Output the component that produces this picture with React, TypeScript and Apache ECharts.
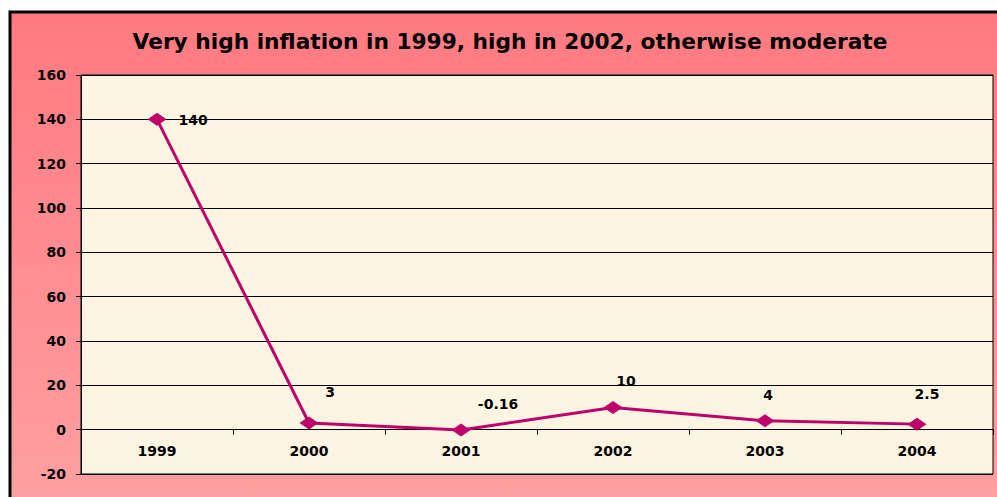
import React, { useEffect, useRef } from "react";
import * as echarts from "echarts";

const years = ["1999", "2000", "2001", "2002", "2003", "2004"];
const inflation = [140, 3, -0.16, 10, 4, 2.5];
const titleText = "Very high inflation in 1999, high in 2002, otherwise moderate";
const yMin = -20;
const yMax = 160;
const yStep = 20;

// label placement styling (per point)
const labelPositions = ["right", "top", "top", "top", "top", "top"];
const labelOffsets = [
  [0, 1],
  [21, -13],
  [37, -8],
  [13, -8],
  [3, -7],
  [10, -12],
];

const FONT = "DejaVu Sans";

export default function App() {
  const ref = useRef<HTMLDivElement>(null);
  useEffect(() => {
    if (!ref.current) return;
    const chart = echarts.init(ref.current, undefined, { renderer: "svg" });
    chart.setOption({
      animation: false,
      backgroundColor: "#ffffff",
      textStyle: { fontFamily: FONT },
      graphic: [
        {
          type: "rect",
          z: -100,
          silent: true,
          shape: { x: 10, y: 12, width: 1000, height: 500 },
          style: {
            fill: new echarts.graphic.LinearGradient(0, 0, 0, 1, [
              { offset: 0, color: "#FF7A80" },
              { offset: 1, color: "#FFA0A3" },
            ]),
            stroke: "#000000",
            lineWidth: 3,
          },
        },
      ],
      title: {
        text: titleText,
        left: 505,
        top: 25,
        textAlign: "center",
        textStyle: {
          fontFamily: FONT,
          fontSize: 21.7,
          fontWeight: "bold",
          color: "#000000",
        },
      },
      grid: {
        left: 81,
        right: 4,
        top: 75,
        bottom: 23,
        show: true,
        backgroundColor: "#FDF5E2",
        borderColor: "#000000",
        borderWidth: 1,
        containLabel: false,
        outerBoundsMode: "none",
      },
      xAxis: {
        type: "category",
        data: years,
        boundaryGap: true,
        axisLine: { show: true, onZero: true, lineStyle: { color: "#000000", width: 1 } },
        axisTick: { show: true, length: 5, interval: 0, lineStyle: { color: "#000000" } },
        axisLabel: {
          margin: -30,
          fontFamily: FONT,
          fontSize: 14,
          fontWeight: "bold",
          color: "#000000",
        },
        splitLine: { show: false },
      },
      yAxis: {
        type: "value",
        min: yMin,
        max: yMax,
        interval: yStep,
        axisLine: { show: true, lineStyle: { color: "#000000", width: 1 } },
        axisTick: { show: true, length: 5, lineStyle: { color: "#000000" } },
        axisLabel: {
          margin: 15,
          fontFamily: FONT,
          fontSize: 14,
          fontWeight: "bold",
          color: "#000000",
        },
        splitLine: { show: true, lineStyle: { color: "#000000", width: 1 } },
      },
      series: [
        {
          type: "line",
          data: inflation.map((v, i) => ({
            value: v,
            label: {
              position: labelPositions[i],
              offset: labelOffsets[i],
              distance: i === 0 ? 12 : 5,
            },
          })),
          color: "#C0006A",
          lineStyle: { color: "#C0006A", width: 3 },
          itemStyle: { color: "#C0006A" },
          symbol: "diamond",
          symbolSize: [19, 13],
          label: {
            show: true,
            fontFamily: FONT,
            fontSize: 14,
            fontWeight: "bold",
            color: "#000000",
          },
        },
      ],
    });
    return () => chart.dispose();
  }, []);
  return (
    <div
      ref={ref}
      style={{ position: "fixed", left: 0, top: 0, width: 997, height: 497 }}
    />
  );
}
